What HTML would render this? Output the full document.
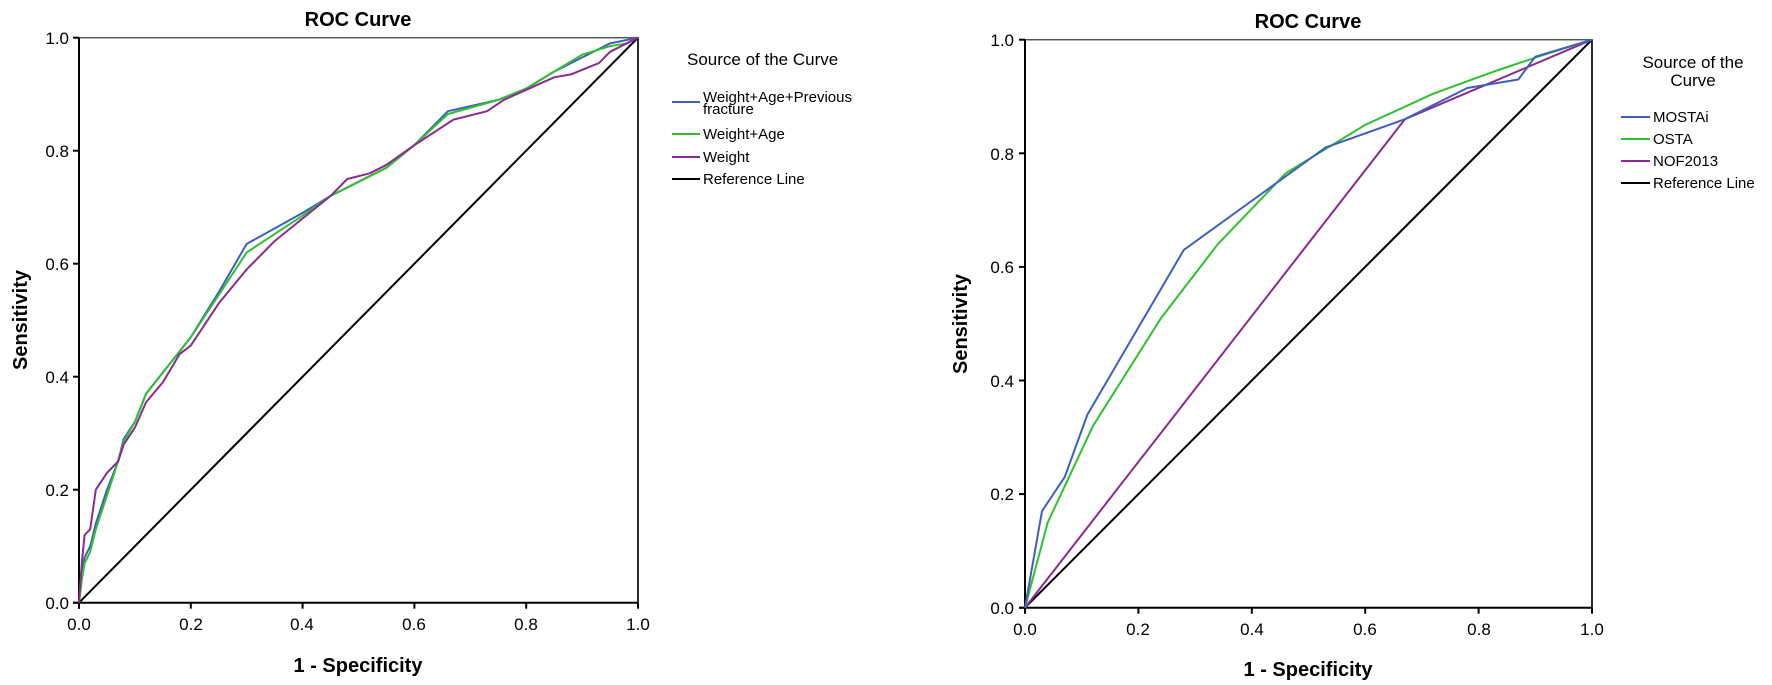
<!DOCTYPE html>
<html><head><meta charset="utf-8"><style>
html,body{margin:0;padding:0;background:#fff;}
svg{display:block;font-family:"Liberation Sans",Arial,sans-serif;}
</style></head><body>
<svg id="s" width="1772" height="685" xmlns="http://www.w3.org/2000/svg">
<rect width="1772" height="685" fill="#fff"/>
<g id="plots"></g>
<!-- Left texts -->
<text x="358" y="26" font-size="20" font-weight="bold" text-anchor="middle">ROC Curve</text>
<text transform="translate(27,320) rotate(-90)" font-size="20" font-weight="bold" text-anchor="middle">Sensitivity</text>
<text x="358" y="672" font-size="20" font-weight="bold" text-anchor="middle">1 - Specificity</text>
<g font-size="17" text-anchor="end">
<text x="69" y="609">0.0</text><text x="69" y="496">0.2</text><text x="69" y="383">0.4</text><text x="69" y="270">0.6</text><text x="69" y="157">0.8</text><text x="69" y="44">1.0</text>
</g>
<g font-size="17" text-anchor="middle">
<text x="79" y="630">0.0</text><text x="191" y="630">0.2</text><text x="302" y="630">0.4</text><text x="414" y="630">0.6</text><text x="526" y="630">0.8</text><text x="638" y="630">1.0</text>
</g>
<text x="687" y="65" font-size="17">Source of the Curve</text>
<g font-size="15">
<line x1="672" y1="102" x2="700" y2="102" stroke="#3f5fbf" stroke-width="2"/>
<text x="703" y="102">Weight+Age+Previous</text><text x="703" y="114">fracture</text>
<line x1="672" y1="134" x2="700" y2="134" stroke="#2ec12e" stroke-width="2"/><text x="703" y="139">Weight+Age</text>
<line x1="672" y1="157" x2="700" y2="157" stroke="#8b2a8f" stroke-width="2"/><text x="703" y="162">Weight</text>
<line x1="672" y1="179" x2="700" y2="179" stroke="#000" stroke-width="2"/><text x="703" y="184">Reference Line</text>
</g>
<!-- Right texts -->
<text x="1308" y="28" font-size="20" font-weight="bold" text-anchor="middle">ROC Curve</text>
<text transform="translate(967,324) rotate(-90)" font-size="20" font-weight="bold" text-anchor="middle">Sensitivity</text>
<text x="1308" y="676" font-size="20" font-weight="bold" text-anchor="middle">1 - Specificity</text>
<g font-size="17" text-anchor="end">
<text x="1014" y="614">0.0</text><text x="1014" y="500">0.2</text><text x="1014" y="387">0.4</text><text x="1014" y="273">0.6</text><text x="1014" y="160">0.8</text><text x="1014" y="46">1.0</text>
</g>
<g font-size="17" text-anchor="middle">
<text x="1025" y="635">0.0</text><text x="1138" y="635">0.2</text><text x="1252" y="635">0.4</text><text x="1365" y="635">0.6</text><text x="1479" y="635">0.8</text><text x="1592" y="635">1.0</text>
</g>
<text x="1693" y="68" font-size="17" text-anchor="middle">Source of the</text>
<text x="1693" y="86" font-size="17" text-anchor="middle">Curve</text>
<g font-size="15">
<line x1="1621" y1="117" x2="1650" y2="117" stroke="#3f5fbf" stroke-width="2"/><text x="1653" y="122">MOSTAi</text>
<line x1="1621" y1="139" x2="1650" y2="139" stroke="#2ec12e" stroke-width="2"/><text x="1653" y="144">OSTA</text>
<line x1="1621" y1="161" x2="1650" y2="161" stroke="#8b2a8f" stroke-width="2"/><text x="1653" y="166">NOF2013</text>
<line x1="1621" y1="183" x2="1650" y2="183" stroke="#000" stroke-width="2"/><text x="1653" y="188">Reference Line</text>
</g>
</svg>
<script>
var NS="http://www.w3.org/2000/svg",g=document.getElementById("plots");
function el(t,a){var e=document.createElementNS(NS,t);for(var k in a)e.setAttribute(k,a[k]);g.appendChild(e);return e;}
function plot(x0,y0,w,h,series){
 el("rect",{x:x0,y:y0-h,width:w,height:h,fill:"none",stroke:"#555","stroke-width":1.5});
 el("line",{x1:x0,y1:y0-h,x2:x0,y2:y0+6,stroke:"#000","stroke-width":2});
 el("line",{x1:x0-6,y1:y0,x2:x0+w,y2:y0,stroke:"#000","stroke-width":2});
 el("line",{x1:x0+w,y1:y0-h,x2:x0+w,y2:y0,stroke:"#000","stroke-width":1.5});
 for(var i=0;i<=5;i++){
  el("line",{x1:x0-6,y1:y0-h*i/5,x2:x0,y2:y0-h*i/5,stroke:"#000","stroke-width":2});
  el("line",{x1:x0+w*i/5,y1:y0,x2:x0+w*i/5,y2:y0+6,stroke:"#000","stroke-width":2});
 }
 el("line",{x1:x0,y1:y0,x2:x0+w,y2:y0-h,stroke:"#000","stroke-width":2});
 series.forEach(function(s){
  el("polyline",{points:s[1].map(function(p){return (x0+p[0]*w).toFixed(1)+","+(y0-p[1]*h).toFixed(1)}).join(" "),fill:"none",stroke:s[0],"stroke-width":2,"stroke-linejoin":"round"});
 });
}
var blue="#3f5fbf",green="#2ec12e",purple="#8b2a8f";
plot(79,602.7,559,565,[
[blue,[[0,0],[0.005,0.05],[0.01,0.08],[0.02,0.1],[0.03,0.14],[0.05,0.2],[0.07,0.25],[0.08,0.29],[0.1,0.32],[0.12,0.37],[0.2,0.47],[0.25,0.55],[0.3,0.635],[0.4,0.69],[0.45,0.72],[0.5,0.745],[0.55,0.77],[0.6,0.81],[0.66,0.87],[0.75,0.89],[0.8,0.91],[0.85,0.94],[0.9,0.965],[0.95,0.99],[1,1]]],
[green,[[0,0],[0.005,0.04],[0.01,0.07],[0.02,0.09],[0.03,0.13],[0.05,0.19],[0.07,0.25],[0.08,0.285],[0.1,0.32],[0.12,0.37],[0.2,0.47],[0.25,0.545],[0.3,0.62],[0.4,0.685],[0.45,0.72],[0.5,0.745],[0.55,0.77],[0.6,0.81],[0.66,0.865],[0.75,0.89],[0.8,0.91],[0.85,0.94],[0.9,0.97],[0.95,0.985],[0.98,0.99],[1,1]]],
[purple,[[0,0],[0.005,0.07],[0.01,0.12],[0.02,0.13],[0.03,0.2],[0.05,0.23],[0.07,0.25],[0.08,0.28],[0.1,0.31],[0.12,0.355],[0.15,0.39],[0.18,0.44],[0.2,0.455],[0.25,0.53],[0.3,0.59],[0.35,0.64],[0.4,0.68],[0.45,0.72],[0.48,0.75],[0.52,0.76],[0.55,0.775],[0.6,0.81],[0.67,0.855],[0.73,0.87],[0.76,0.89],[0.85,0.93],[0.88,0.935],[0.93,0.955],[0.95,0.975],[0.97,0.985],[1,1]]]
]);
plot(1025,607.7,567,568,[
[purple,[[0,0],[0.67,0.86],[1,1]]],
[green,[[0,0],[0.04,0.15],[0.12,0.32],[0.24,0.51],[0.34,0.64],[0.46,0.765],[0.6,0.85],[0.72,0.905],[0.83,0.945],[0.92,0.975],[1,1]]],
[blue,[[0,0],[0.03,0.17],[0.07,0.23],[0.11,0.34],[0.28,0.63],[0.53,0.81],[0.67,0.86],[0.78,0.915],[0.87,0.93],[0.9,0.97],[1,1]]]
]);
</script>
</body></html>
